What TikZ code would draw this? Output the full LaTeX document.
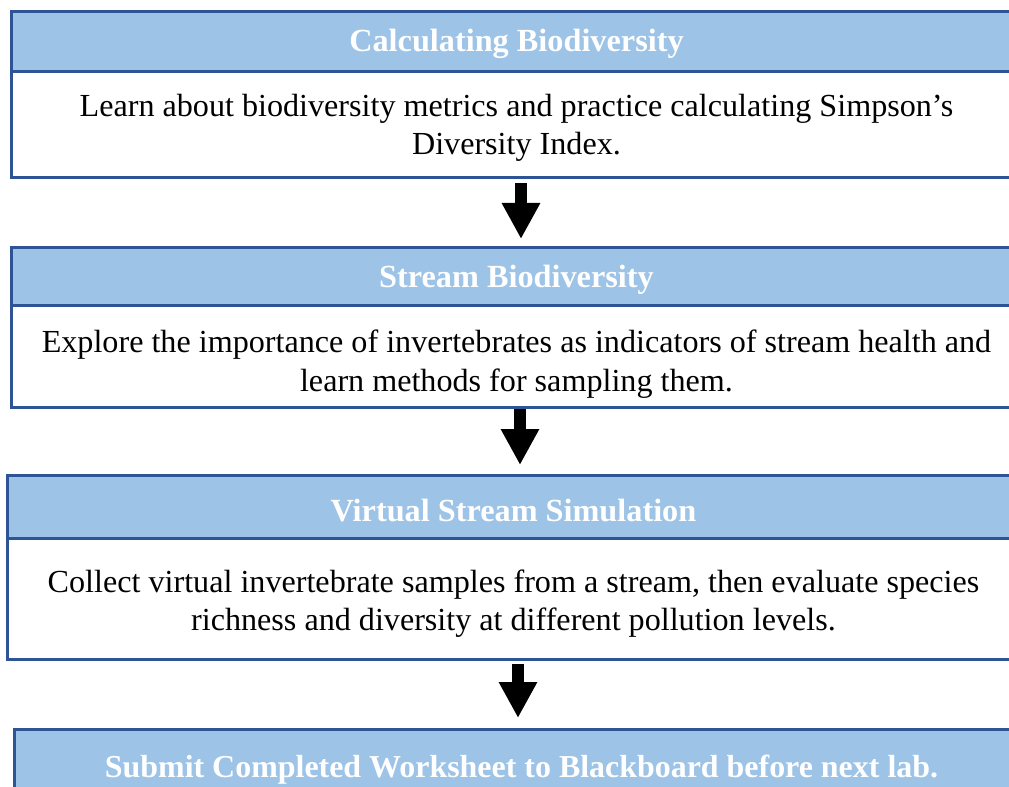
\documentclass[tikz,border=0pt]{standalone}
\usepackage{fontspec}
\setmainfont{Liberation Serif}
\usetikzlibrary{arrows.meta}
\definecolor{hdrfill}{HTML}{9DC3E6}
\definecolor{boxline}{HTML}{2F5496}
\tikzset{
  hdr/.style={draw=boxline, line width=2.2pt, fill=hdrfill, anchor=north west, inner sep=0pt},
  bodybox/.style={draw=boxline, line width=2.2pt, fill=white, anchor=north west, inner sep=0pt},
  hdrtext/.style={inner sep=0pt, text=white, font=\fontsize{24.2}{29}\selectfont\bfseries, align=center},
  bodytext/.style={inner sep=0pt, text=black, font=\fontsize{24.1}{29.1}\selectfont, align=center},
  blockarrow/.style={line width=9pt, -{Triangle[width=27pt,length=27pt]}, draw=black}
}
\begin{document}
\begin{tikzpicture}[x=0.75pt,y=-0.75pt]
\useasboundingbox (0,0) rectangle (1009,787);
\clip (0,0) rectangle (1009,787);
% box 1
\node[bodybox, minimum width=1010*0.75pt, minimum height=106*0.75pt] (b1) at (10,70) {};
\node[hdr, minimum width=1010*0.75pt, minimum height=60*0.75pt] (h1) at (10,10) {};
\node[hdrtext] (ht1) at ([yshift=-1.5pt]h1.center) {Calculating Biodiversity};
\node[bodytext] (bt1) at ([yshift=-2.5pt]b1.center) {Learn about biodiversity metrics and practice calculating Simpson’s\\Diversity Index.};
% box 2
\node[bodybox, minimum width=1010*0.75pt, minimum height=102*0.75pt] (b2) at (10,304) {};
\node[hdr, minimum width=1010*0.75pt, minimum height=58*0.75pt] (h2) at (10,246) {};
\node[hdrtext] (ht2) at ([yshift=-2.2pt]h2.center) {Stream Biodiversity};
\node[bodytext] (bt2) at ([yshift=-5.5pt]b2.center) {Explore the importance of invertebrates as indicators of stream health and\\learn methods for sampling them.};
% box 3
\node[bodybox, minimum width=1012*0.75pt, minimum height=121*0.75pt] (b3) at (6,537) {};
\node[hdr, minimum width=1012*0.75pt, minimum height=63*0.75pt] (h3) at (6,474) {};
\node[hdrtext] (ht3) at ([yshift=-2.5pt]h3.center) {Virtual Stream Simulation};
\node[bodytext] (bt3) at ([yshift=-3.5pt]b3.center) {Collect virtual invertebrate samples from a stream, then evaluate species\\richness and diversity at different pollution levels.};
% box 4
\node[hdr, minimum width=1018*0.75pt, minimum height=80*0.75pt] (h4) at (13,728) {};
\node[hdrtext, font=\fontsize{23.95}{29}\selectfont\bfseries] (ht4) at (521.5,770) {Submit Completed Worksheet to Blackboard before next lab.};
% arrow axes
\coordinate (a1) at (521,0);
\coordinate (a2) at (520,0);
\coordinate (a3) at (518,0);
% arrows
\draw[blockarrow] ([yshift=-3pt]b1.south -| a1) -- ([yshift=5.25pt]h2.north -| a1);
\draw[blockarrow] (b2.south -| a2) -- ([yshift=6.75pt]h3.north -| a2);
\draw[blockarrow] ([yshift=-2.25pt]b3.south -| a3) -- ([yshift=7.5pt]h4.north -| a3);
\end{tikzpicture}
\end{document}
